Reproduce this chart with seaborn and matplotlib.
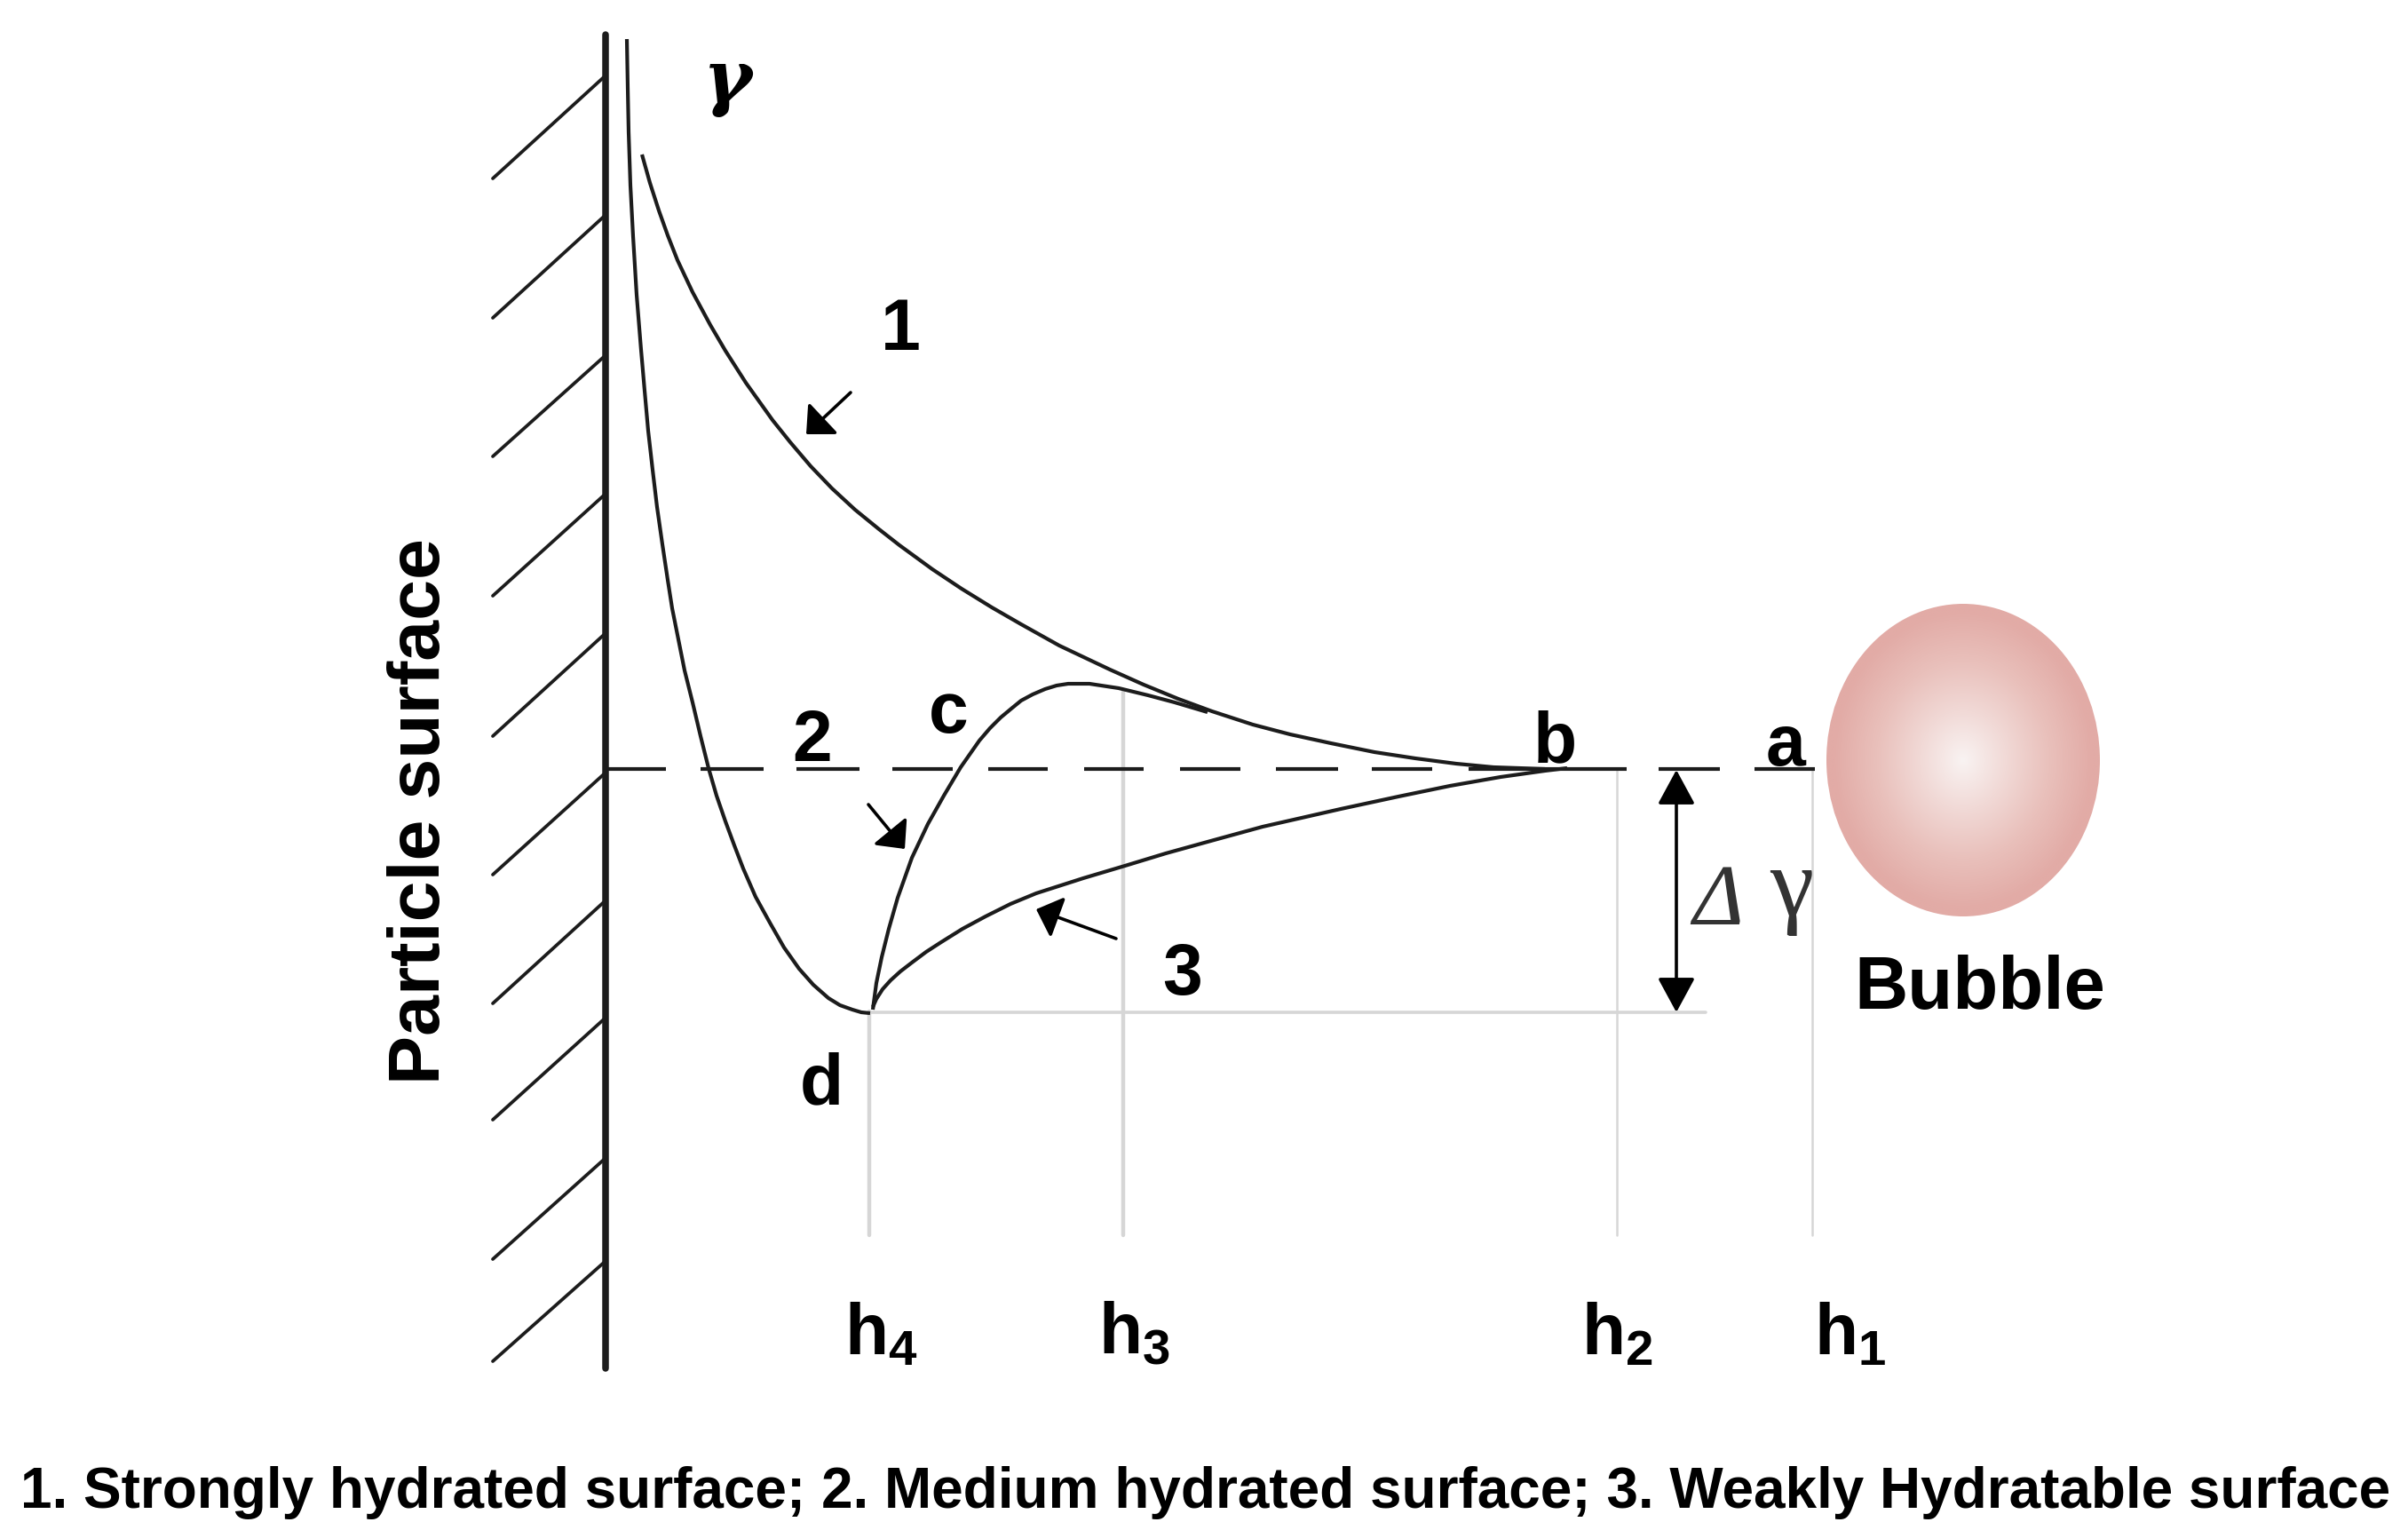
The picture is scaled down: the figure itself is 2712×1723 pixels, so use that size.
import numpy as np
import seaborn as sns
import matplotlib
matplotlib.use("Agg")
import matplotlib.pyplot as plt
from matplotlib.colors import LinearSegmentedColormap
from matplotlib.patches import Ellipse

# all values, in image pixels
curve1_x = [723, 732, 742, 752, 763, 780, 800, 817, 840, 870, 890, 913, 937, 963, 990, 1013, 1050, 1083, 1117, 1150,
            1193, 1250, 1288, 1327, 1365, 1411, 1453, 1499, 1548, 1594, 1640, 1682, 1740]
curve1_y = [175, 207, 238, 266, 294, 330, 367, 396, 432, 474, 499, 526, 551, 575, 597, 615, 642, 664, 685, 704,
            728, 755, 772, 788, 802, 817, 828, 838, 848, 855, 861, 865, 867]

curve2_x = [706, 707, 708, 710, 713, 717, 722, 726, 730, 735, 740, 746, 752, 757, 763, 771, 780, 789, 798,
            807, 817, 827, 837, 851, 867, 883, 900, 916, 933, 946, 960, 970, 980]
curve2_y = [45, 100, 150, 210, 267, 333, 395, 441, 486, 530, 572, 614, 654, 686, 716, 756, 792, 830, 866,
            897, 926, 953, 979, 1011, 1040, 1068, 1092, 1110, 1125, 1133, 1138, 1141, 1142]

# rising branch from d through c, joins curve 1
branch_x = [983, 987, 993, 1001, 1011, 1027, 1045, 1063, 1082, 1103, 1115, 1127, 1139, 1150, 1163, 1177, 1190, 1203, 1227,
            1260, 1293, 1323, 1360]
branch_y = [1138, 1108, 1079, 1047, 1012, 967, 929, 897, 865, 835, 821, 809, 799, 790, 783, 777, 773, 771, 771,
            776, 784, 792, 803]

curve3_x = [983, 987, 994, 1003, 1014, 1027, 1043, 1060, 1084, 1110, 1138, 1167, 1220, 1267, 1313, 1360, 1422, 1510, 1575,
            1633, 1690, 1740, 1765]
curve3_y = [1135, 1126, 1115, 1105, 1095, 1085, 1073, 1062, 1047, 1033, 1019, 1007, 990, 976, 962, 949, 932, 912, 898,
            886, 876, 869, 866]

hatch_x0 = 555
hatch_x1 = 681
hatch_y0 = [202, 359, 515, 672, 830, 986, 1131, 1262, 1419, 1534]
hatch_y1 = [87, 244, 402, 558, 715, 872, 1016, 1148, 1306, 1422]

wall_x = [682, 682]
wall_y = [40, 1542]
zero_y = 867
dash_start = [684, 789, 897, 1005, 1113, 1221, 1329, 1437, 1545, 1654, 1868, 1976]
dash_end = [750, 860, 968, 1073, 1180, 1288, 1397, 1507, 1613, 1832, 1937, 2044]

guide_x = [979, 1265, 1821, 2041]
guide_top = [1140, 780, 867, 867]
guide_bottom = [1392, 1392, 1392, 1392]
guide_width = [3.2, 3.2, 1.8, 1.8]
floor_x = [979, 1921]
floor_y = [1141, 1141]

arrow_from = [(958, 443), (978, 907), (1257, 1058)]
arrow_to = [(908, 490), (1019, 957), (1167, 1025)]
delta_top = (1888, 868)
delta_bottom = (1888, 1141)

labels = ["1", "2", "3", "a", "b", "c", "d"]
label_x = [1014, 915, 1332, 2011, 1751, 1068, 925]
label_y = [373, 836, 1099, 841, 837, 804, 1222]

h_labels = ["h_4", "h_3", "h_2", "h_1"]
h_label_x = [951, 1237, 1781, 2043]
h_label_y = 1525

caption = "1. Strongly hydrated surface; 2. Medium hydrated surface; 3. Weakly Hydratable surface"

sns.set_theme(style="white")
plt.rcParams["font.family"] = ["Liberation Sans", "DejaVu Sans"]
plt.rcParams["mathtext.fontset"] = "custom"
plt.rcParams["mathtext.bf"] = "Liberation Sans:bold"

fig = plt.figure(figsize=(27.12, 17.24), dpi=100)
ax = fig.add_axes([0, 0, 1, 1])
ax.set_xlim(0, 2712)
ax.set_ylim(1724, 0)
ax.axis("off")

ink = "#1c1c1c"
grey = "#d6d6d6"

# light guide lines go first
for x, top, bottom, w in zip(guide_x, guide_top, guide_bottom, guide_width):
    sns.lineplot(x=[x, x], y=[top, bottom], color=grey, linewidth=w, estimator=None, sort=False, ax=ax)
sns.lineplot(x=floor_x, y=floor_y, color=grey, linewidth=2.6, estimator=None, sort=False, ax=ax)

# wall and hatching
sns.lineplot(x=wall_x, y=wall_y, color=ink, linewidth=5.4, estimator=None, sort=False, ax=ax)
for y0, y1 in zip(hatch_y0, hatch_y1):
    sns.lineplot(x=[hatch_x0, hatch_x1], y=[y0, y1], color=ink, linewidth=2.7, estimator=None, sort=False, ax=ax)

for x0, x1 in zip(dash_start, dash_end):
    sns.lineplot(x=[x0, x1], y=[zero_y, zero_y], color=ink, linewidth=3.0, estimator=None, sort=False, ax=ax,
                 solid_capstyle="butt")

for xs, ys in [(curve1_x, curve1_y), (curve2_x, curve2_y), (branch_x, branch_y), (curve3_x, curve3_y)]:
    sns.lineplot(x=xs, y=ys, color=ink, linewidth=3.0, estimator=None, sort=False, ax=ax,
                 solid_joinstyle="round", solid_capstyle="butt")

for start, end in zip(arrow_from, arrow_to):
    ax.annotate("", xy=end, xytext=start,
                arrowprops=dict(arrowstyle="-|>,head_length=16,head_width=15", mutation_scale=1,
                                color="black", lw=2.6, shrinkA=0, shrinkB=0))
ax.annotate("", xy=delta_bottom, xytext=delta_top,
            arrowprops=dict(arrowstyle="<|-|>,head_length=24,head_width=13", mutation_scale=1,
                            color="black", lw=2.6, shrinkA=0, shrinkB=0))

# bubble: radial shading clipped to an ellipse
bubble_cmap = LinearSegmentedColormap.from_list("bubble", ["#f9f3f2", "#f1d9d6", "#e9c0bb", "#e2aba6"])
gx, gy = np.meshgrid(np.linspace(-1, 1, 400), np.linspace(-1, 1, 400))
im = ax.imshow(np.hypot(gx, gy), extent=(2057, 2365, 1033, 681), cmap=bubble_cmap, vmin=0, vmax=0.95,
               aspect="auto", interpolation="bilinear", zorder=1)
clip = Ellipse((2211, 857), 308, 352, transform=ax.transData, facecolor="none", edgecolor="none")
ax.add_patch(clip)
im.set_clip_path(clip)
ax.set_xlim(0, 2712)
ax.set_ylim(1724, 0)

for text, x, y in zip(labels, label_x, label_y):
    ax.text(x, y, text, fontsize=58, fontweight="bold", color="black", ha="center", va="center")
for text, x in zip(h_labels, h_label_x):
    ax.text(x, h_label_y, "$\\mathbf{%s}$" % text, fontsize=58, color="black", ha="left", va="baseline")

ax.text(474, 914, "Particle surface", fontsize=59.4, fontweight="bold", rotation=90, color="black",
        ha="center", va="center")
ax.text(2230, 1114, "Bubble", fontsize=60, fontweight="bold", color="black", ha="center", va="center")
ax.text(1358, 1681, caption, fontsize=46, fontweight="bold", color="black", ha="center", va="center")

ax.text(819, 92, "γ", fontsize=60, fontweight="bold", style="italic", family=["DejaVu Serif"],
        color="black", ha="center", va="center")
ax.text(1906, 1041, "Δ", fontsize=70, style="italic", family=["Liberation Serif", "DejaVu Serif"],
        color="#333333", ha="left", va="baseline")
ax.text(1993, 1031, "γ", fontsize=80, family=["Liberation Serif", "DejaVu Serif"],
        color="#333333", ha="left", va="baseline")

fig.savefig("out.png", dpi=100)
